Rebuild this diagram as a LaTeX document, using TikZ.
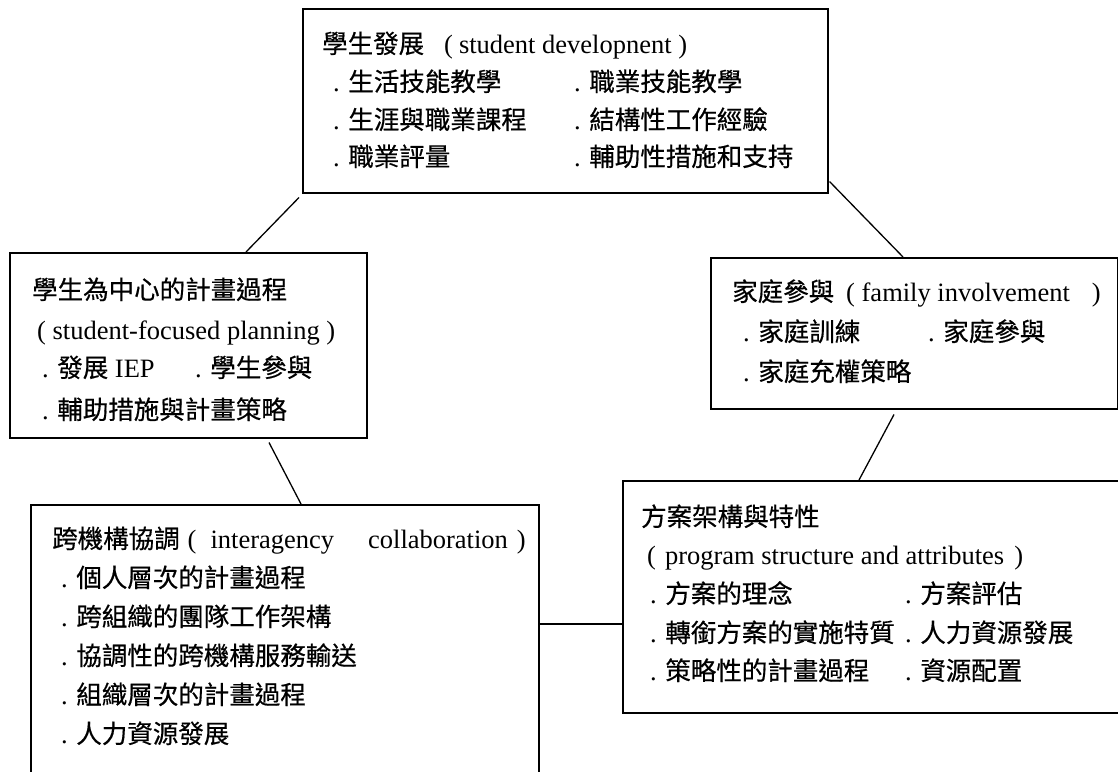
\documentclass[tikz,border=0pt]{standalone}
\usepackage{fontspec}
\setmainfont{Liberation Serif}
\newfontfamily\zhf{Noto Sans CJK TC}[FakeBold=0.5]
\newcommand{\zh}[1]{{\zhf\fontsize{25.5}{30}\selectfont #1}}
\newcommand{\dt}{.\hspace{8.5pt}}
\usetikzlibrary{calc}
\begin{document}
\begin{tikzpicture}[x=1pt,y=-1pt,
  box/.style={draw,line width=1.5pt,anchor=north west,inner sep=0pt},
  txt/.style={anchor=base west,inner sep=0pt,font=\fontsize{26.5}{30}\selectfont},
  link/.style={line width=1.3pt}]
\useasboundingbox (0,0) rectangle (1118,771);
\clip (0,0) rectangle (1118,771);
\fill[white] (0,0) rectangle (1118,771);
% boxes
\node[box,minimum width=525pt,minimum height=184pt] (dev) at (302,8) {};
\node[box,minimum width=357pt,minimum height=185pt] (plan) at (9,252) {};
\node[box,minimum width=407pt,minimum height=151pt] (fam) at (710,257) {};
\node[box,minimum width=508pt,minimum height=300pt] (inter) at (30,504) {};
\node[box,minimum width=520pt,minimum height=232pt] (prog) at (622,480) {};
% connectors
\draw[link] ($(dev.south west)+(-3,4)$) -- ($(plan.north west)+(237,0)$);
\draw[link] ($(dev.south east)+(1,-12)$) -- ($(fam.north west)+(193,0)$);
\draw[link] ($(plan.south west)+(260,4)$) -- ($(inter.north west)+(271,0)$);
\draw[link] ($(fam.south west)+(184,5)$) -- ($(prog.north west)+(237,0)$);
\draw[link] ($(inter.north east)+(0,120)$) -- ($(prog.north west)+(0,144)$);
% student development
\node[txt] (d0) at (322,53) {\zh{學生發展}\hspace{20pt}(\hspace{6pt}student developnent )};
\node[txt] (d1) at (333,91) {\dt\zh{生活技能教學}};
\node[txt] (d2) at (333,129) {\dt\zh{生涯與職業課程}};
\node[txt] (d3) at (333,166) {\dt\zh{職業評量}};
\node[txt] (d4) at (574,91) {\dt\zh{職業技能教學}};
\node[txt] (d5) at (574,129) {\dt\zh{結構性工作經驗}};
\node[txt] (d6) at (574,166) {\dt\zh{輔助性措施和支持}};
% student-focused planning
\node[txt] (p0) at (32,299) {\zh{學生為中心的計畫過程}};
\node[txt] (p1) at (37,339) {( student-focused planning )};
\node[txt] (p2) at (42,377) {\dt\zh{發展} IEP};
\node[txt] (p3) at (195,377) {\dt\zh{學生參與}};
\node[txt] (p4) at (42,419) {\dt\zh{輔助措施與計畫策略}};
% family involvement
\node[txt] (f0) at (732,301) {\zh{家庭參與}\hspace{12pt}( family involvement\hspace{22pt})};
\node[txt] (f1) at (743,341) {\dt\zh{家庭訓練}};
\node[txt] (f2) at (928,341) {\dt\zh{家庭參與}};
\node[txt] (f3) at (743,381) {\dt\zh{家庭充權策略}};
% interagency collaboration
\node[txt] (i0) at (52,548) {\zh{跨機構協調}\hspace{8pt}(\hspace{14pt}interagency\hspace{34pt}collaboration\hspace{9pt})};
\node[txt] (i1) at (61,587) {\dt\zh{個人層次的計畫過程}};
\node[txt] (i2) at (61,626) {\dt\zh{跨組織的團隊工作架構}};
\node[txt] (i3) at (61,665) {\dt\zh{協調性的跨機構服務輸送}};
\node[txt] (i4) at (61,704) {\dt\zh{組織層次的計畫過程}};
\node[txt] (i5) at (61,743) {\dt\zh{人力資源發展}};
% program structure and attributes
\node[txt] (r0) at (641,526) {\zh{方案架構與特性}};
\node[txt] (r1) at (647,564) {(\hspace{9pt}program structure and attributes\hspace{10pt})};
\node[txt] (r2) at (650,603) {\dt\zh{方案的理念}};
\node[txt] (r3) at (650,642) {\dt\zh{轉銜方案的實施特質}};
\node[txt] (r4) at (650,680) {\dt\zh{策略性的計畫過程}};
\node[txt] (r5) at (905,603) {\dt\zh{方案評估}};
\node[txt] (r6) at (905,642) {\dt\zh{人力資源發展}};
\node[txt] (r7) at (905,680) {\dt\zh{資源配置}};
\end{tikzpicture}
\end{document}
